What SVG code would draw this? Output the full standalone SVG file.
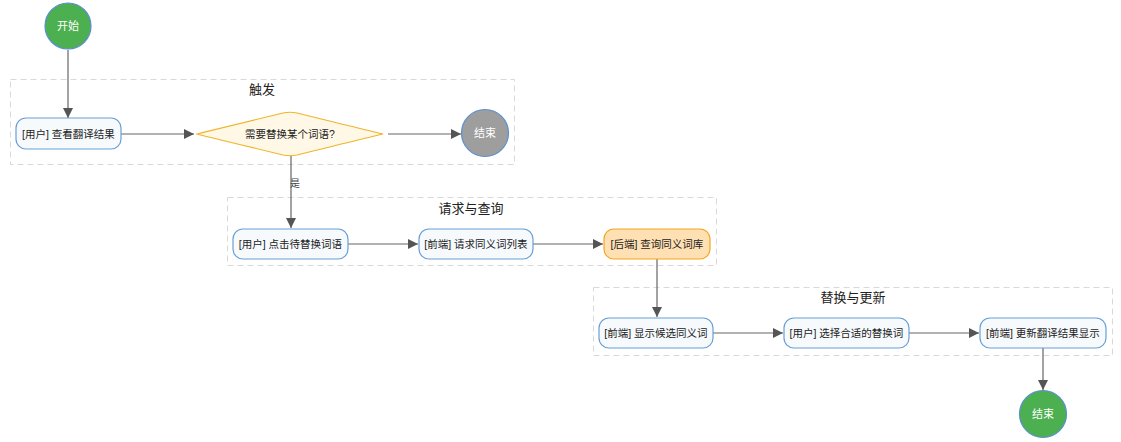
<svg xmlns="http://www.w3.org/2000/svg" width="1121" height="442" viewBox="0 0 1121 442">
<defs>
<marker id="arr" viewBox="0 0 10 10" refX="10" refY="5" markerWidth="10" markerHeight="10" markerUnits="userSpaceOnUse" orient="auto">
<path d="M0,0 L10,5 L0,10 z" fill="#555"/>
</marker>
<style>
text{font-family:"Liberation Sans","Noto Sans CJK SC",sans-serif;}
.cl{fill:none;stroke:#d9d9d9;stroke-width:1;stroke-dasharray:6 4;}
.ct{font-size:13px;fill:#222;text-anchor:middle;}
.nd{fill:#f6fafd;stroke:#6a9fd4;stroke-width:1.2;}
.nt{font-size:10.5px;fill:#222;text-anchor:middle;dominant-baseline:central;}
.wt{font-size:11px;fill:#fff;text-anchor:middle;dominant-baseline:central;}
.e{fill:none;stroke:#666;stroke-width:1.2;marker-end:url(#arr);}
</style>
</defs>
<rect width="1121" height="442" fill="#fff"/>
<g id="cluster-trigger"><rect class="cl" x="10.5" y="79.5" width="504" height="85"/><text class="ct" x="262" y="94">触发</text></g>
<g id="cluster-request"><rect class="cl" x="227.5" y="197.5" width="489" height="68"/><text class="ct" x="471" y="213">请求与查询</text></g>
<g id="cluster-update"><rect class="cl" x="593.5" y="287.5" width="519" height="68"/><text class="ct" x="853" y="302">替换与更新</text></g>
<g id="connectors">
<path class="e" d="M68,50 V118"/>
<path class="e" d="M121,134 H194"/>
<path class="e" d="M388,134 H461"/>
<path class="e" d="M291,155 V228"/>
<text x="290" y="187" font-size="10" fill="#444">是</text>
<path class="e" d="M348,244 H418"/>
<path class="e" d="M533,244 H603"/>
<path class="e" d="M657,259 V317"/>
<path class="e" d="M713,333 H783"/>
<path class="e" d="M909,333 H979"/>
<path class="e" d="M1043,348 V390"/>
</g>
<g id="start"><circle cx="68" cy="26" r="23" fill="#4caf50" stroke="#5b8fcf" stroke-width="1.2"/><text class="wt" x="68" y="26">开始</text></g>
<g id="view"><rect class="nd" x="16" y="118" width="105" height="31" rx="10"/><text class="nt" x="68.5" y="133.5">[用户] 查看翻译结果</text></g>
<g id="decision"><path d="M197,134 Q200,133 283,113 Q290,111.5 297,113 Q378,133 383,134 Q378,135 297,155 Q290,156.5 283,155 Q200,135 197,134 Z" fill="#fff8e6" stroke="#f0b429" stroke-width="1.2"/><text class="nt" x="290" y="134">需要替换某个词语?</text></g>
<g id="end1"><circle cx="485" cy="133" r="23.5" fill="#9e9e9e" stroke="#5b8fcf" stroke-width="1.2"/><text class="wt" x="485" y="133">结束</text></g>
<g id="click"><rect class="nd" x="233" y="229" width="115" height="30" rx="10"/><text class="nt" x="290.5" y="244">[用户] 点击待替换词语</text></g>
<g id="req"><rect class="nd" x="419" y="229" width="114" height="30" rx="10"/><text class="nt" x="476" y="244">[前端] 请求同义词列表</text></g>
<g id="query"><rect x="604" y="229" width="106" height="30" rx="10" fill="#ffe0b2" stroke="#f5a623" stroke-width="1.2"/><text class="nt" x="657" y="244">[后端] 查询同义词库</text></g>
<g id="show"><rect class="nd" x="599" y="318" width="114" height="30" rx="10"/><text class="nt" x="656" y="333">[前端] 显示候选同义词</text></g>
<g id="choose"><rect class="nd" x="784" y="318" width="125" height="30" rx="10"/><text class="nt" x="846.5" y="333">[用户] 选择合适的替换词</text></g>
<g id="updatefe"><rect class="nd" x="980" y="318" width="126" height="30" rx="10"/><text class="nt" x="1043" y="333">[前端] 更新翻译结果显示</text></g>
<g id="end2"><circle cx="1043" cy="414" r="23.5" fill="#4caf50" stroke="#5b8fcf" stroke-width="1.2"/><text class="wt" x="1043" y="414">结束</text></g>
</svg>
